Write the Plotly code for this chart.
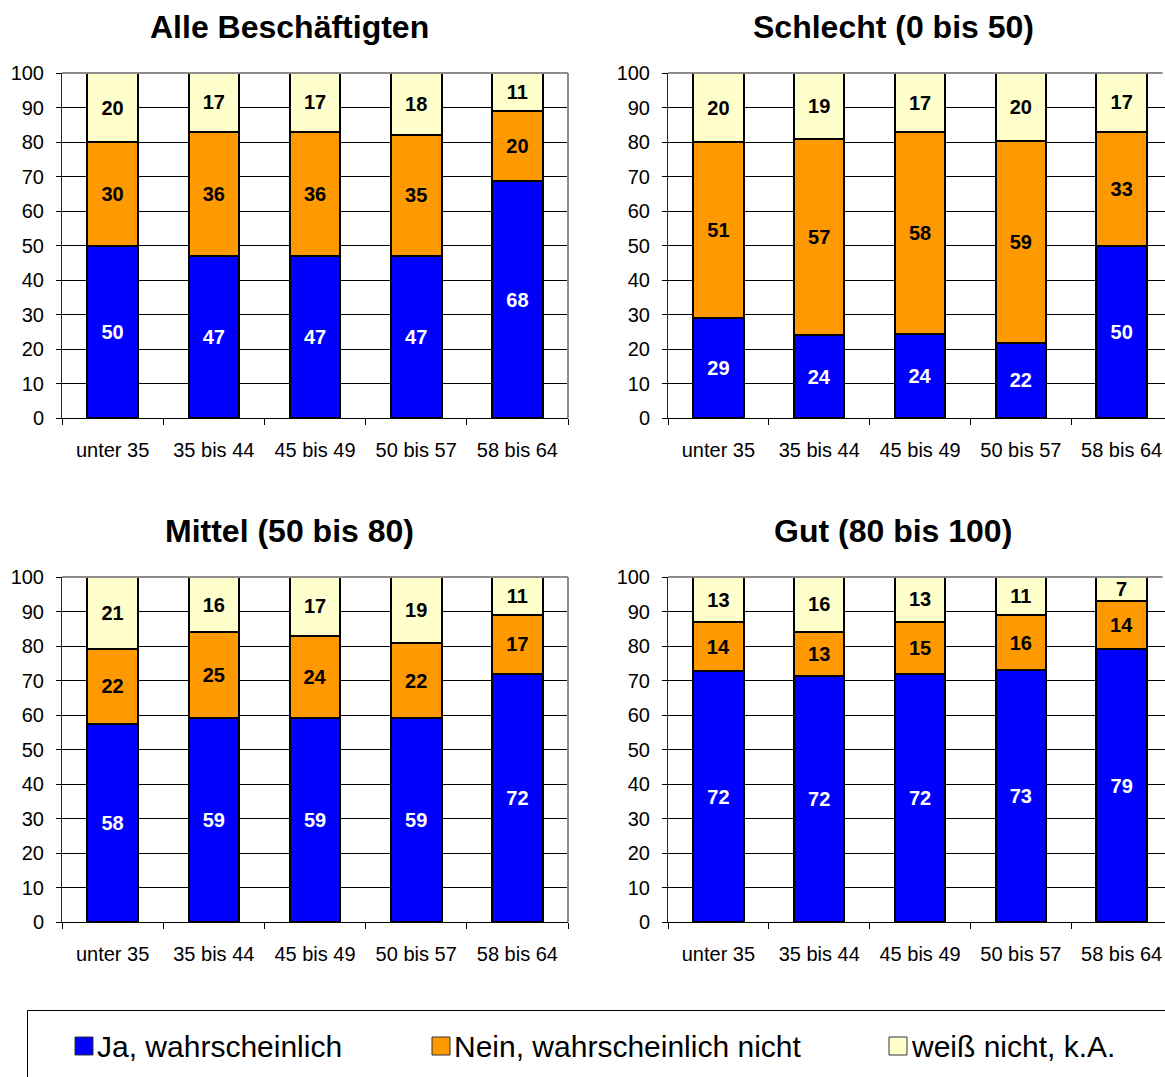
import plotly.graph_objects as go

# Age groups shown on every panel
categories = ["unter 35", "35 bis 44", "45 bis 49", "50 bis 57", "58 bis 64"]

# Series names
series_names = ["Ja, wahrscheinlich", "Nein, wahrscheinlich nicht", "weiß nicht, k.A."]

# Panel titles
titles = ["Alle Beschäftigten", "Schlecht (0 bis 50)", "Mittel (50 bis 80)", "Gut (80 bis 100)"]

# Shares (percent) per panel
alle_ja = [50, 47, 47, 47, 68]
alle_nein = [30, 36, 36, 35, 20]
alle_wn = [20, 17, 17, 18, 11]

schlecht_ja = [29, 24, 24, 22, 50]
schlecht_nein = [51, 57, 58, 59, 33]
schlecht_wn = [20, 19, 17, 20, 17]

mittel_ja = [58, 59, 59, 59, 72]
mittel_nein = [22, 25, 24, 22, 17]
mittel_wn = [21, 16, 17, 19, 11]

gut_ja = [72, 72, 72, 73, 79]
gut_nein = [14, 13, 15, 16, 14]
gut_wn = [13, 16, 13, 11, 7]

y_ticks = [0, 10, 20, 30, 40, 50, 60, 70, 80, 90, 100]

panels = [
    (alle_ja, alle_nein, alle_wn),
    (schlecht_ja, schlecht_nein, schlecht_wn),
    (mittel_ja, mittel_nein, mittel_wn),
    (gut_ja, gut_nein, gut_wn),
]

colors = ["#0000FF", "#FF9900", "#FFFFCC"]
text_colors = ["white", "black", "black"]
FONT = "Liberation Sans, Arial, Helvetica, sans-serif"

W, H = 1165, 1077


def px_x(x):
    return x / W


def px_y(y):
    return 1 - y / H


# Plot-area placement (pixels) of the four panels
domains_x = [(62, 568), (668, 1165), (62, 568), (668, 1165)]
domains_y = [(73, 418), (73, 418), (577, 922), (577, 922)]
x_ranges = [[-0.5, 4.5], [-0.5, 4.43], [-0.5, 4.5], [-0.5, 4.43]]
title_pos = [(289, 27), (893, 27), (289, 531), (893, 531)]

fig = go.Figure()

for i, vals in enumerate(panels):
    n = "" if i == 0 else str(i + 1)
    for s, v in enumerate(vals):
        fig.add_trace(go.Bar(
            x=categories, y=v, name=series_names[s],
            xaxis="x" + n, yaxis="y" + n,
            marker=dict(color=colors[s], line=dict(color="black", width=2)),
            text=v, texttemplate="%{text}",
            textposition="inside", insidetextanchor="middle",
            textangle=0, constraintext="none",
            textfont=dict(family=FONT, size=20, color=text_colors[s], weight="bold"),
            showlegend=False, hoverinfo="skip",
        ))

    xa = dict(
        domain=[px_x(domains_x[i][0]), px_x(domains_x[i][1])],
        anchor="y" + n, type="category", range=x_ranges[i],
        tickson="boundaries", ticks="outside", ticklen=6, tickcolor="black",
        showline=True, linecolor="black", linewidth=1,
        showgrid=False, ticklabelstandoff=14, automargin=False,
        tickfont=dict(family=FONT, size=20, color="black"),
    )
    ya = dict(
        domain=[px_y(domains_y[i][1]), px_y(domains_y[i][0])],
        anchor="x" + n, range=[0, 100], tickvals=y_ticks,
        ticks="outside", ticklen=5, tickcolor="black",
        showline=True, linecolor="#222222", linewidth=1,
        showgrid=True, gridcolor="black", gridwidth=1, zeroline=False,
        ticklabelstandoff=8, automargin=False,
        tickfont=dict(family=FONT, size=20, color="black"),
    )
    fig.update_layout(**{"xaxis" + n: xa, "yaxis" + n: ya})

    # grey frame on top (and right for the left column)
    right_end = 1 if i in (0, 2) else 0.995
    fig.add_shape(type="line", xref="x" + n + " domain", yref="y" + n + " domain",
                  x0=0, x1=right_end, y0=1, y1=1, layer="above",
                  line=dict(color="#8c8c8c", width=2))
    if i in (0, 2):
        fig.add_shape(type="line", xref="x" + n + " domain", yref="y" + n + " domain",
                      x0=1, x1=1, y0=0, y1=1, layer="above",
                      line=dict(color="#8c8c8c", width=2))

    fig.add_annotation(text="<b>" + titles[i] + "</b>", xref="paper", yref="paper",
                       x=px_x(title_pos[i][0]), y=px_y(title_pos[i][1]),
                       xanchor="center", yanchor="middle", showarrow=False,
                       font=dict(family=FONT, size=32, color="black"))

# Legend frame: left and top edges (it runs off the bottom-right of the page)
lx0, ly_top = px_x(27.5), px_y(1010.5)
ly_bot, lx_right = px_y(1077), px_x(1165)
fig.add_shape(type="path", xref="paper", yref="paper",
              path=f"M {lx0},{ly_bot} L {lx0},{ly_top} L {lx_right},{ly_top}",
              line=dict(color="black", width=1), layer="above")

legend_x = [75, 432, 889]
for s in range(3):
    x0 = legend_x[s]
    fig.add_shape(type="rect", xref="paper", yref="paper",
                  x0=px_x(x0), x1=px_x(x0 + 18), y0=px_y(1055), y1=px_y(1037),
                  line=dict(color="#333333", width=1), fillcolor=colors[s], layer="above")
    fig.add_annotation(text=series_names[s], xref="paper", yref="paper",
                       x=px_x(x0 + 20), y=px_y(1046), xanchor="left", yanchor="middle",
                       showarrow=False, font=dict(family=FONT, size=30, color="black"))

fig.update_layout(
    width=W, height=H,
    margin=dict(l=0, r=0, t=0, b=0, autoexpand=False),
    barmode="stack", barnorm="percent", bargap=0.5,
    plot_bgcolor="white", paper_bgcolor="white",
    showlegend=False,
)

fig.write_html("out.html")
